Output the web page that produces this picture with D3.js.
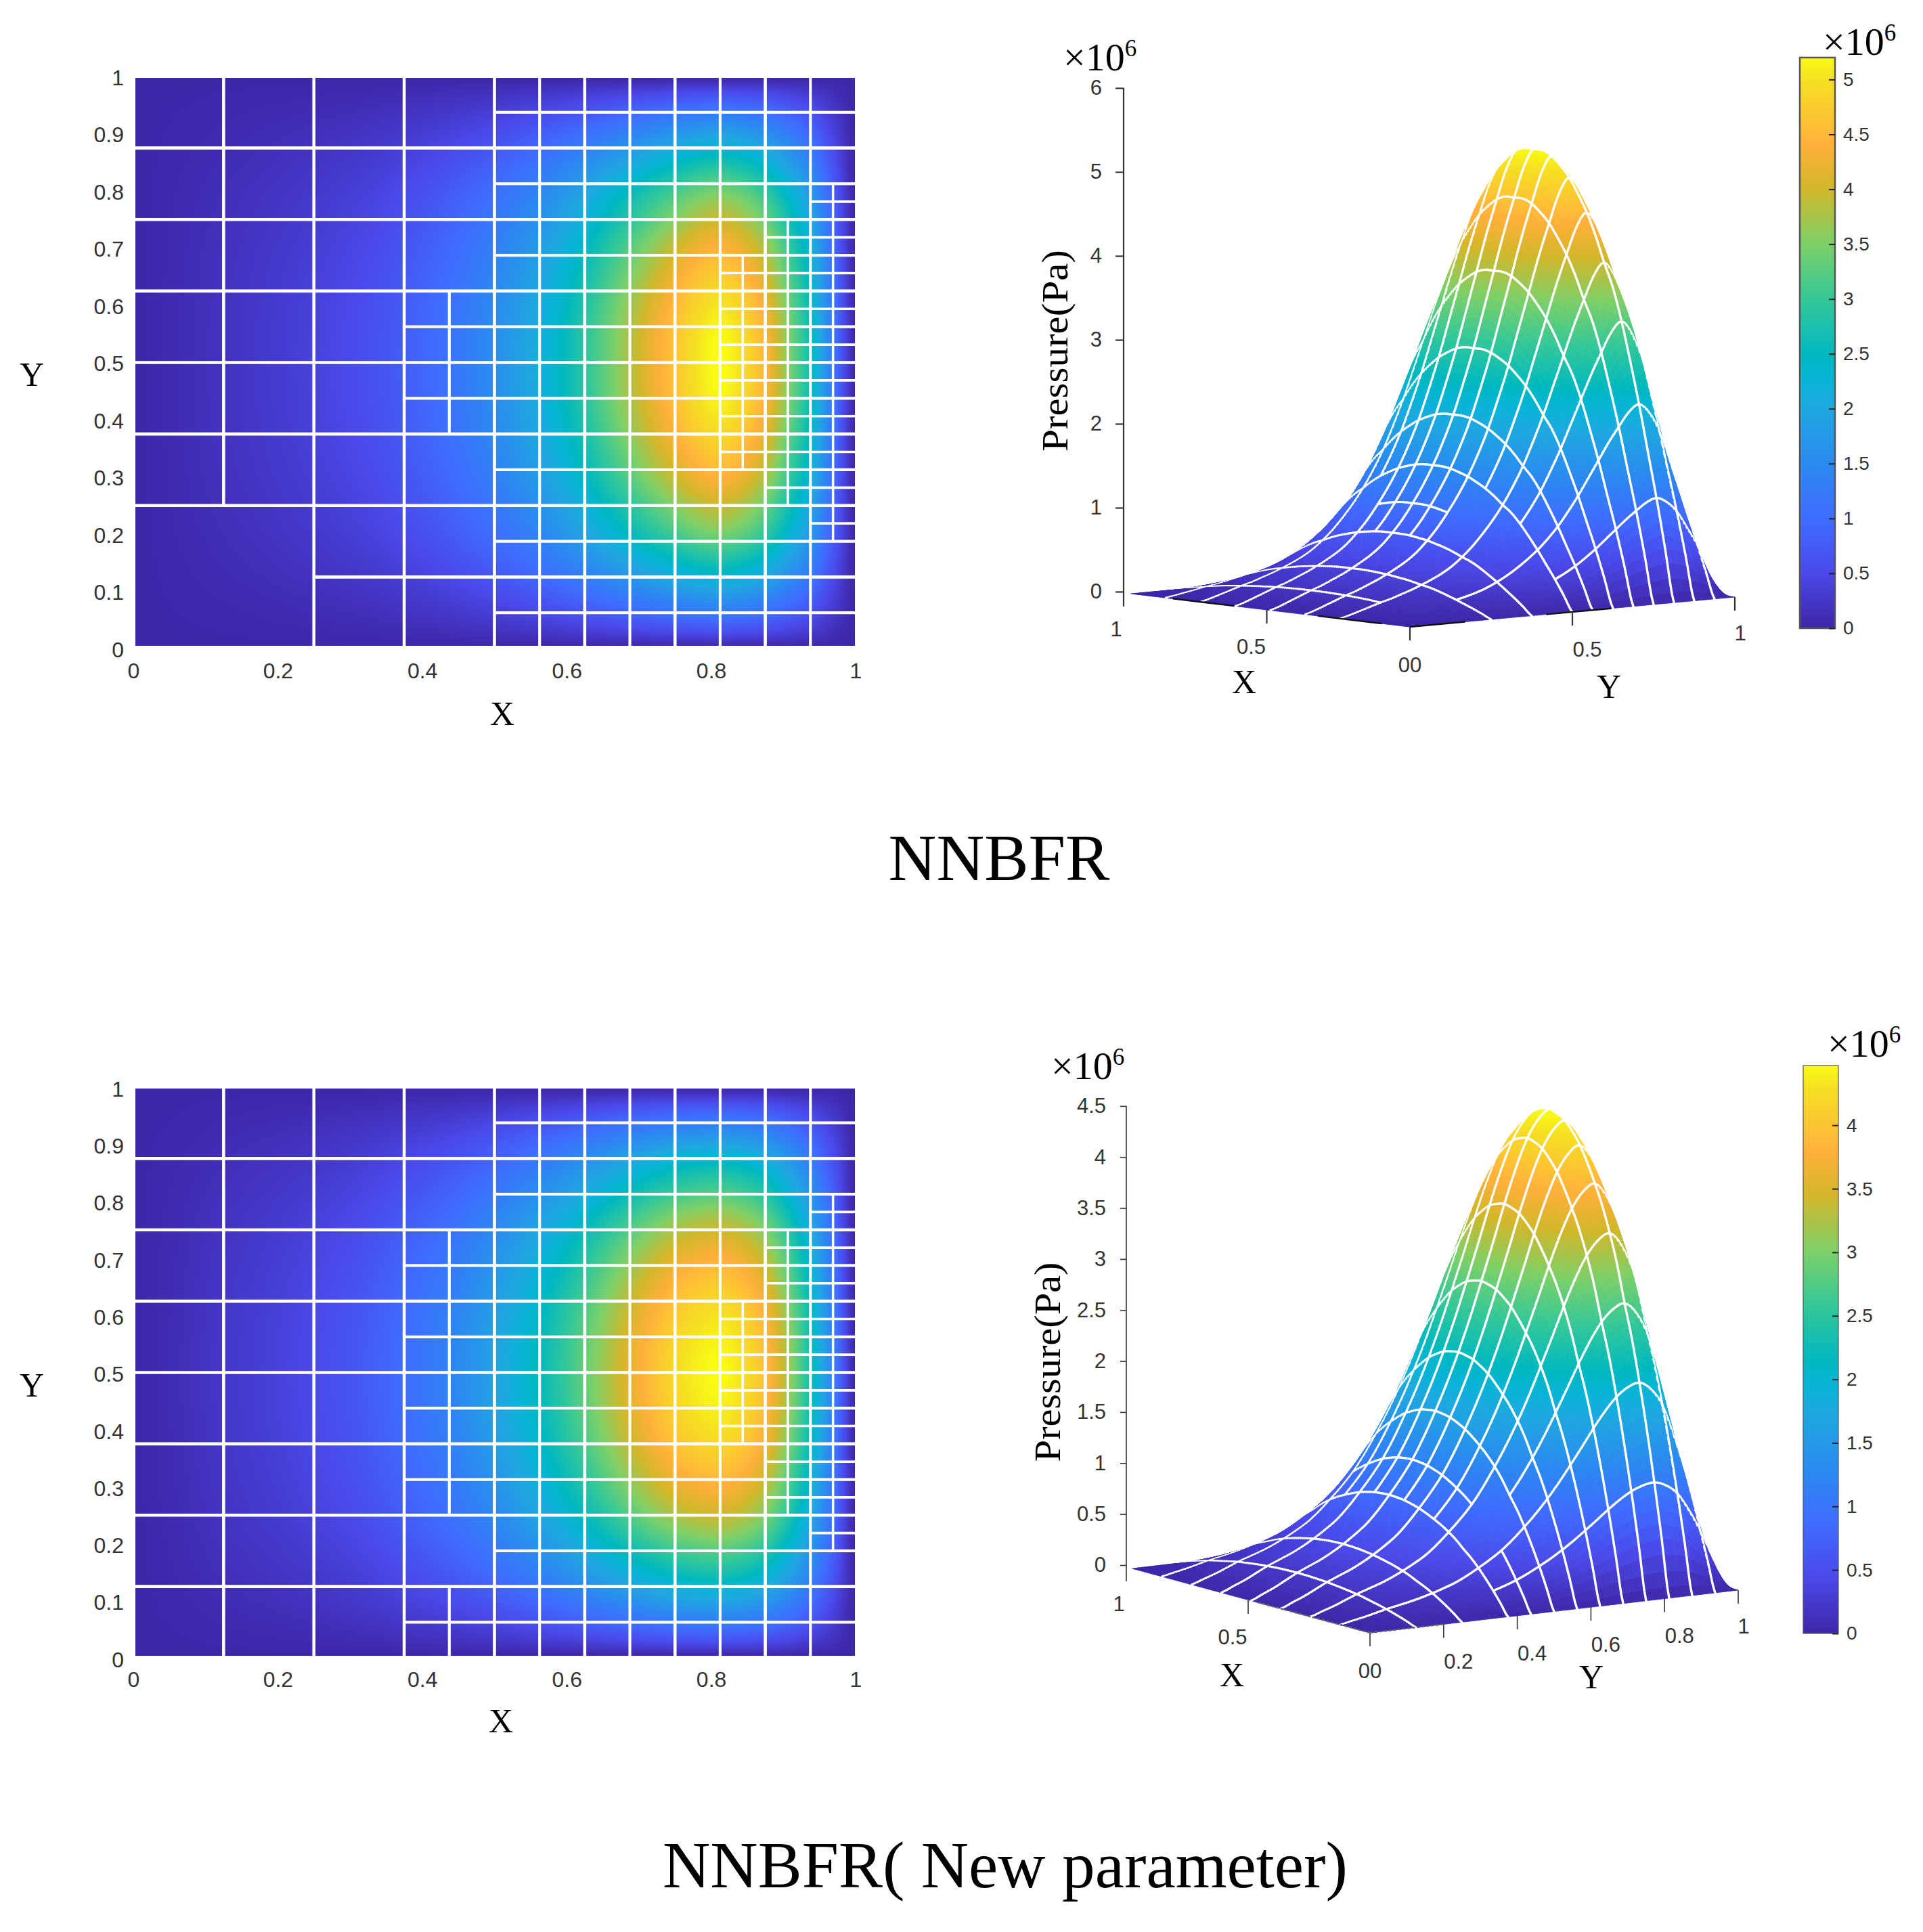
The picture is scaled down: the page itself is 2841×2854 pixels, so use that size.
<!DOCTYPE html>
<html><head><meta charset="utf-8">
<script src="https://cdnjs.cloudflare.com/ajax/libs/d3/7.8.5/d3.min.js"></script>
<style>html,body{margin:0;background:#fff}svg{display:block}</style></head>
<body><svg id="chart" width="2841" height="2854"></svg>
<script>
// ---------- data ----------
const heatXTicks=[0,0.2,0.4,0.6,0.8,1];
const heatYTicks=[0,0.1,0.2,0.3,0.4,0.5,0.6,0.7,0.8,0.9,1];
const titleA="NNBFR", titleB="NNBFR( New parameter)";
// pressure (×10^6 Pa) along heat-map X at Y=0.5, every 1/32
const pressureAlongXA=[0,.04,.09,.14,.19,.235,.29,.345,.41,.48,.56,.66,.79,.94,1.12,1.32,1.55,1.82,2.13,2.5,2.9,3.35,3.8,4.25,4.65,5.02,5.2,4.95,4.42,3.55,2.6,1.2,0];
const pressureAlongXB=[0,.05,.10,.16,.22,.27,.32,.38,.45,.53,.62,.74,.88,1.03,1.2,1.41,1.65,1.91,2.2,2.52,2.87,3.23,3.6,3.94,4.22,4.4,4.47,4.3,3.92,3.2,2.3,1.15,0];
// share of that pressure along heat-map Y, every 1/32
const shareAlongYA=[0,.12,.235,.34,.445,.54,.63,.705,.76,.82,.87,.91,.945,.97,.99,1,1,1,.99,.97,.945,.91,.87,.82,.76,.705,.63,.54,.445,.34,.235,.12,0];
const shareAlongYB=[0,.125,.245,.355,.455,.545,.62,.70,.765,.82,.865,.905,.94,.965,.985,.995,1,.995,.985,.965,.94,.905,.865,.82,.765,.70,.62,.545,.455,.355,.245,.125,0];
// mesh lines: [position, from, to], in 1/32 of the unit square
const meshVerticalA=[[4,8,32],[8,0,32],[12,0,32],[14,12,20],[16,0,32],[18,0,32],[20,0,32],[22,0,32],[24,0,32],[26,0,32],[27,10,22],[28,0,32],[29,8,24],[30,0,32],[31,6,26]];
const meshHorizontalA=[[2,16,32],[4,8,32],[6,16,32],[7,30,32],[8,0,32],[9,28,32],[10,16,32],[11,26,32],[12,0,32],[13,26,32],[14,12,32],[15,26,32],[16,0,32],[17,26,32],[18,12,32],[19,26,32],[20,0,32],[21,26,32],[22,16,32],[23,28,32],[24,0,32],[25,30,32],[26,16,32],[28,0,32],[30,16,32]];
const meshVerticalB=[[4,0,32],[8,0,32],[12,0,32],[14,0,4],[14,8,24],[16,0,32],[18,0,32],[20,0,32],[22,0,32],[24,0,32],[26,0,32],[27,12,20],[28,0,32],[29,8,24],[30,0,32],[31,6,26]];
const meshHorizontalB=[[2,12,32],[4,0,32],[6,16,32],[7,30,32],[8,0,32],[9,28,32],[10,12,32],[11,28,32],[12,0,32],[13,26,32],[14,12,32],[15,26,32],[16,0,32],[17,26,32],[18,12,32],[19,26,32],[20,0,32],[21,28,32],[22,12,32],[23,28,32],[24,0,32],[25,30,32],[26,16,32],[28,0,32],[30,16,32]];
const zTicksA=[0,1,2,3,4,5,6];
const zTicksB=[0,.5,1,1.5,2,2.5,3,3.5,4,4.5];
const barTicksA=[0,.5,1,1.5,2,2.5,3,3.5,4,4.5,5];
const barTicksB=[0,.5,1,1.5,2,2.5,3,3.5,4];
const barMaxA=5.2, barMaxB=4.47;
const depthTicksA=[[1,"1"],[.5,"0.5"]];
const sideTicksA=[[0,"00"],[.5,"0.5"],[1,"1"]];
const depthTicksB=[[1,"1"],[.5,"0.5"]];
const sideTicksB=[[0,"00"],[.2,"0.2"],[.4,"0.4"],[.6,"0.6"],[.8,"0.8"],[1,"1"]];
// colour map stops
const colourStops=[0,.096,.192,.288,.385,.433,.48,.577,.673,.77,.846,.865,.96,1];
const colourValues=["#3e26a8","#4a48e8","#3f6cff","#2b8af0","#1fa8e0","#0ab4d8","#00b8c0","#35c898","#7dd068","#d2b72a","#ffb03a","#ffb83a","#f5e022","#f9fb15"];

// ---------- helpers ----------
const sans="'Liberation Sans',Arial,sans-serif", serif="'Liberation Serif',serif";
const tickInk="#333";
const svg=d3.select("#chart");
const frac=d3.scaleLinear().domain(colourStops).range(colourValues).interpolate(d3.interpolateRgb).clamp(true);
function lookup(table,t){
  const n=table.length-1,p=Math.min(Math.max(t,0),1)*n,i=Math.min(Math.floor(p),n-1),f=p-i;
  const a=table[Math.max(i-1,0)],b=table[i],c=table[i+1],d=table[Math.min(i+2,n)];
  return Math.max(0,b+.5*f*(c-a+f*(2*a-5*b+4*c-d+f*(3*(b-c)+d-a))));
}
const field=(xs,ys)=>(u,v)=>lookup(xs,u)*lookup(ys,v);
function label(g,txt,x,y,size,fam,extra){
  const t=g.append("text").attr("x",x).attr("y",y).attr("dy",".35em").attr("text-anchor","middle")
    .attr("font-family",fam).attr("font-size",size).attr("fill",fam===serif?"#000":tickInk).text(txt);
  if(extra)extra(t);return t;
}
function times(g,x,y){
  const t=g.append("text").attr("x",x).attr("y",y).attr("font-family",serif).attr("font-size",58).attr("fill","#000");
  t.append("tspan").text("×10");
  t.append("tspan").attr("dy",-21).attr("font-size",35).text("6");
}
function styleAxis(a,size){
  a.select(".domain").remove();
  a.selectAll("text").attr("font-family",sans).attr("font-size",size).attr("fill",tickInk);
  a.selectAll("line").attr("stroke",tickInk);
}

function heatmap(cfg,f,maxV,vert,horiz){
  const g=svg.append("g");
  const x=d3.scaleLinear().domain([0,1]).range(cfg.x);
  const y=d3.scaleLinear().domain([0,1]).range(cfg.y);
  const cx=[cfg.clipX[0],cfg.clipX[1]],cy=[cfg.clipY[0],cfg.clipY[1]];
  const w=cx[1]-cx[0],h=cy[1]-cy[0];
  const lut=d3.range(1025).map(i=>d3.rgb(frac(i/1024)));
  const cv=document.createElement("canvas");cv.width=w;cv.height=h;
  const ctx=cv.getContext("2d"),img=ctx.createImageData(w,h);
  for(let r=0;r<h;r++)for(let c=0;c<w;c++){
    const val=f(x.invert(cx[0]+c+.5),y.invert(cy[0]+r+.5));
    const col=lut[Math.round(Math.min(val/maxV,1)*1024)],o=(r*w+c)*4;
    img.data[o]=col.r;img.data[o+1]=col.g;img.data[o+2]=col.b;img.data[o+3]=255;
  }
  ctx.putImageData(img,0,0);
  g.append("image").attr("x",cx[0]).attr("y",cy[0]).attr("width",w).attr("height",h).attr("href",cv.toDataURL());
  const cell=d=>d/32;
  const widthOf=d=>d[0]%2?3.6:(d[0]%4?4.2:4.6);
  g.append("g").selectAll("line").data(vert).join("line")
    .attr("x1",d=>x(cell(d[0]))).attr("x2",d=>x(cell(d[0])))
    .attr("y1",d=>y(cell(d[1]))).attr("y2",d=>y(cell(d[2])))
    .attr("stroke","#fff").attr("stroke-width",widthOf);
  g.append("g").selectAll("line").data(horiz).join("line")
    .attr("y1",d=>y(cell(d[0]))).attr("y2",d=>y(cell(d[0])))
    .attr("x1",d=>x(cell(d[1]))).attr("x2",d=>x(cell(d[2])))
    .attr("stroke","#fff").attr("stroke-width",widthOf);
  const ax=g.append("g").attr("transform",`translate(0,${cfg.tickY})`)
    .call(d3.axisBottom(x).tickValues(heatXTicks).tickFormat(d3.format("~g")).tickSize(0).tickPadding(0));
  styleAxis(ax,32);ax.selectAll("text").attr("dy",".35em").attr("y",0);
  const ay=g.append("g").attr("transform",`translate(${cfg.tickX},${cfg.tickShift})`)
    .call(d3.axisLeft(y).tickValues(heatYTicks).tickFormat(d3.format("~g")).tickSize(0).tickPadding(0));
  styleAxis(ay,32);
  label(g,"X",cfg.xLab[0],cfg.xLab[1],50,serif);
  label(g,"Y",cfg.yLab[0],cfg.yLab[1],50,serif);
}

function surface(cfg,f,vert,horiz,maxV){
  const g=svg.append("g");
  const zS=d3.scaleLinear().domain([0,1]).range([0,cfg.zPx]);
  const uX=d3.scaleLinear().domain([0,1]).range([0,cfg.R[0]-cfg.F[0]]),uY=d3.scaleLinear().domain([0,1]).range([0,cfg.R[1]-cfg.F[1]]);
  const vX=d3.scaleLinear().domain([0,1]).range([0,cfg.L[0]-cfg.F[0]]),vY=d3.scaleLinear().domain([0,1]).range([0,cfg.L[1]-cfg.F[1]]);
  const tipX=d3.scaleLinear().domain([0,1]).range([0,cfg.tip[0]-cfg.F[0]]),tipY=d3.scaleLinear().domain([0,1]).range([0,cfg.tip[1]-cfg.F[1]]);
  const proj=(u,v,z)=>[cfg.F[0]+uX(u)+tipX(v),cfg.F[1]+uY(u)+tipY(v)-zS(z)];
  const topTick=cfg.zTicks[cfg.zTicks.length-1];
  const zAxisScale=d3.scaleLinear().domain([0,topTick]).range([cfg.zBase,cfg.zBase-cfg.zPx*topTick]);
  // axes
  const az=g.append("g").attr("transform",`translate(${cfg.L[0]},0)`)
    .call(d3.axisLeft(zAxisScale).tickValues(cfg.zTicks).tickFormat(d3.format("~g")).tickSize(cfg.zTick).tickPadding(cfg.zPad));
  styleAxis(az,31);
  az.selectAll("line").attr("stroke-width",cfg.axisW);
  const axisWidth=cfg.axisW;
  g.append("line").attr("x1",cfg.L[0]).attr("x2",cfg.L[0]).attr("y1",zAxisScale(topTick)).attr("y2",cfg.L[1]+cfg.tick).attr("stroke",tickInk).attr("stroke-width",axisWidth);
  const depth=d=>[cfg.F[0]+vX(d[0]),cfg.F[1]+vY(d[0])], side=d=>[cfg.F[0]+uX(d[0]),cfg.F[1]+uY(d[0])];
  const ticks=[...cfg.depthTicks.map(d=>({p:depth(d),t:d[1],o:d[0]===1?[-11,53]:[-23,54]})),
               ...cfg.sideTicks.map(d=>({p:side(d),t:d[1],o:d[0]===0?[0,56]:d[0]===1?[8,53]:[22,55]}))];
  ticks.forEach(d=>{
    if(d.p[0]!==cfg.L[0])g.append("line").attr("x1",d.p[0]).attr("x2",d.p[0]).attr("y1",d.p[1]).attr("y2",d.p[1]+cfg.tick).attr("stroke",tickInk).attr("stroke-width",axisWidth);
    label(g,d.t,d.p[0]+d.o[0],d.p[1]+d.o[1],31,sans);
  });
  // surface painted back to front
  const n=128,pieces=[];
  const step=1/n,has=(list,pos,a,b)=>list.some(s=>s[0]/32===pos&&s[1]/32<=a+1e-9&&s[2]/32>=b-1e-9);
  const vShown=vert.filter(d=>d[0]%2===0),hShown=horiz.filter(d=>d[0]%2===0);
  for(let i=n-1;i>=0;i--)for(let j=n-1;j>=0;j--){
    const u0=i*step,u1=(i+1)*step,v0=j*step,v1=(j+1)*step;
    const z00=f(u0,v0),z10=f(u1,v0),z11=f(u1,v1),z01=f(u0,v1);
    const fillCol=frac(((z00+z10+z11+z01)/4)/maxV);
    const quad=[proj(u0,v0,z00),proj(u1,v0,z10),proj(u1,v1,z11),proj(u0,v1,z01)];
    pieces.push({d:d3.line()(quad)+"Z",fill:fillCol,stroke:fillCol,w:.8});
    let m="";
    if(i<n-1&&has(vShown,u1,v0,v1))m+=d3.line()([quad[1],quad[2]]);
    if(j<n-1&&has(hShown,v1,u0,u1))m+=d3.line()([quad[2],quad[3]]);
    if(m)pieces.push({d:m,fill:"none",stroke:"#fff",w:cfg.meshW});
  }
  g.append("g").attr("stroke-linecap","round").selectAll("path").data(pieces).join("path")
    .attr("d",d=>d.d).attr("fill",d=>d.fill).attr("stroke",d=>d.stroke).attr("stroke-width",d=>d.w);
  // pieces of the ground lines that show along the surface's front edges
  const edge=(pt,r)=>d3.line()([pt([r[0]]),pt([r[1]])]);
  const edges=[...cfg.depthEdge.map(r=>edge(d=>[cfg.F[0]+tipX(d[0]),cfg.F[1]+tipY(d[0])],r)),...cfg.sideEdge.map(r=>edge(side,r))];
  g.append("g").selectAll("path").data(edges).join("path").attr("d",d=>d).attr("fill","none")
    .attr("stroke",cfg.edgeInk).attr("stroke-width",2.4).attr("stroke-dasharray",cfg.edgeDash);
  // labels
  label(g,"X",cfg.xLab[0],cfg.xLab[1],50,serif);
  label(g,"Y",cfg.yLab[0],cfg.yLab[1],50,serif);
  label(g,"Pressure(Pa)",cfg.pLab[0],cfg.pLab[1],54,serif,t=>t.attr("transform",`rotate(-90 ${cfg.pLab[0]} ${cfg.pLab[1]})`).attr("textLength",cfg.pLen).attr("lengthAdjust","spacingAndGlyphs"));
  times(g,cfg.zTimes[0],cfg.zTimes[1]);
  // colour bar
  const bar=d3.scaleLinear().domain([0,maxV]).range([cfg.barY[1],cfg.barY[0]]);
  const gid="bar"+cfg.id,grad=svg.append("defs").append("linearGradient").attr("id",gid).attr("x1",0).attr("x2",0).attr("y1",1).attr("y2",0);
  grad.selectAll("stop").data(colourStops).join("stop").attr("offset",d=>d).attr("stop-color",(d,i)=>colourValues[i]);
  g.append("rect").attr("x",cfg.barX[0]).attr("y",cfg.barY[0]).attr("width",cfg.barX[1]-cfg.barX[0]).attr("height",cfg.barY[1]-cfg.barY[0]).attr("fill",`url(#${gid})`).attr("stroke","#555").attr("stroke-width",cfg.barEdge);
  const ab=g.append("g").attr("transform",`translate(${cfg.barX[1]},0)`)
    .call(d3.axisRight(bar).tickValues(cfg.barTicks).tickFormat(d3.format("~g")).tickSizeInner(-9).tickSizeOuter(0).tickPadding(12));
  styleAxis(ab,28);
  ab.selectAll("line").attr("stroke","#222").attr("stroke-width",2);
  times(g,cfg.barTimes[0],cfg.barTimes[1]);
}

// ---------- panels ----------
const fA=field(pressureAlongXA,shareAlongYA),fB=field(pressureAlongXB,shareAlongYB);
heatmap({x:[197,1264],y:[958,113],clipX:[200,1263],clipY:[115,954],tickY:991,tickX:183,tickShift:2,xLab:[742,1053],yLab:[47,552]},fA,barMaxA,meshVerticalA,meshHorizontalA);
heatmap({x:[197,1264],y:[2449,1606],clipX:[200,1263],clipY:[1608,2446],tickY:2481,tickX:183,tickShift:3,xLab:[740,2541],yLab:[47,2045]},fB,barMaxB,meshVerticalB,meshHorizontalB);
surface({id:"A",F:[2083,926],L:[1660,876],tip:[1671,877],R:[2563,882],zPx:124,zBase:874,zTicks:zTicksA,zTick:12,zPad:20,axisW:2.2,tick:20,meshW:3.4,
  depthEdge:[[.1,.33],[.63,.85]],sideEdge:[[0,.17],[.42,.62]],edgeInk:"#111",edgeDash:null,
  depthTicks:depthTicksA,sideTicks:sideTicksA,xLab:[1838,1006],yLab:[2377,1013],pLab:[1558,518],pLen:298,zTimes:[1571,104],
  barX:[2659,2711],barY:[85,928],barTicks:barTicksA,barEdge:2.5,barTimes:[2693,81]},fA,meshVerticalA,meshHorizontalA,barMaxA);
surface({id:"B",F:[2024,2412],L:[1664,2316],tip:[1673,2317],R:[2568,2349],zPx:150.7,zBase:2312,zTicks:zTicksB,zTick:9,zPad:21,axisW:1.6,tick:20,meshW:3.4,
  depthEdge:[[0,.47]],sideEdge:[[0,.2]],edgeInk:"#666",edgeDash:"4 3",
  depthTicks:depthTicksB,sideTicks:sideTicksB,xLab:[1820,2473],yLab:[2351,2476],pLab:[1547,2012],pLen:295,zTimes:[1553,1594],
  barX:[2664,2716],barY:[1574,2413],barTicks:barTicksB,barEdge:1.2,barTimes:[2700,1561]},fB,meshVerticalB,meshHorizontalB,barMaxB);
// captions
svg.append("text").attr("x",1476).attr("y",1300).attr("text-anchor","middle").attr("font-family",serif).attr("font-size",98).text(titleA);
svg.append("text").attr("x",1485).attr("y",2788).attr("text-anchor","middle").attr("font-family",serif).attr("font-size",98).attr("textLength",1012).attr("lengthAdjust","spacingAndGlyphs").text(titleB);
</script></body></html>
